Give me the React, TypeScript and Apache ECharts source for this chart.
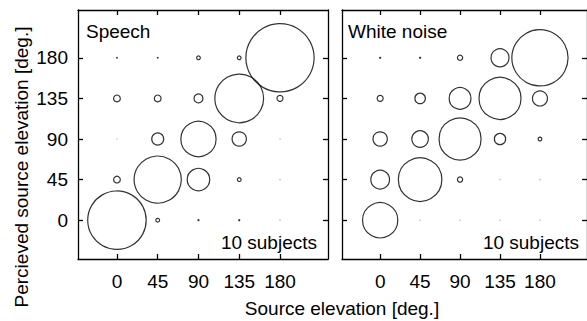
import React, { useEffect, useRef } from "react";
import * as echarts from "echarts";

const sourceElevations = [0, 45, 90, 135, 180];
const perceivedElevations = [0, 45, 90, 135, 180];
const tickValues = [0, 45, 90, 135, 180];
const panelTitles = ["Speech", "White noise"];
const subjectsNote = "10 subjects";
const xAxisTitle = "Source elevation [deg.]";
const yAxisTitle = "Percieved source elevation [deg.]";

// Response percentages; each row is one perceived elevation (0 .. 180),
// each entry a source elevation (0 .. 180).
const speechPerceived0 = [78, 5, 3, 3, 0];
const speechPerceived45 = [9, 63, 30, 5, 0];
const speechPerceived90 = [0, 16, 47, 19, 0];
const speechPerceived135 = [9, 9, 12, 65, 8];
const speechPerceived180 = [2, 2, 5, 5, 91];

const noisePerceived0 = [47, 0, 0, 0, 0];
const noisePerceived45 = [25, 58, 7, 0, 0];
const noisePerceived90 = [19, 22, 56, 15, 5];
const noisePerceived135 = [8, 14, 29, 56, 20];
const noisePerceived180 = [3, 3, 7, 24, 75];

const speechRows = [speechPerceived0, speechPerceived45, speechPerceived90, speechPerceived135, speechPerceived180];
const noiseRows = [noisePerceived0, noisePerceived45, noisePerceived90, noisePerceived135, noisePerceived180];

const FONT = "'Liberation Sans', Arial, Helvetica, sans-serif";
const FS = 19;
const AX_MIN = -43;
const AX_MAX = 233;
const PX_PER_PCT = 0.75;

function buildData(rows: number[][]) {
  const out: any[] = [];
  rows.forEach((row, ri) => {
    row.forEach((v, ci) => {
      const zero = v === 0;
      out.push({
        value: [sourceElevations[ci], perceivedElevations[ri], v],
        symbolSize: zero ? 1.4 : Math.max(v * PX_PER_PCT, 1.8),
        itemStyle: zero
          ? { color: "#999", borderWidth: 0 }
          : v * PX_PER_PCT < 2.6
          ? { color: "#000", borderWidth: 0 }
          : { color: "rgba(0,0,0,0)", borderColor: "#000", borderWidth: 1.2 },
      });
    });
  });
  return out;
}

export default function App() {
  const ref = useRef<HTMLDivElement>(null);
  useEffect(() => {
    if (!ref.current) return;
    const chart = echarts.init(ref.current, undefined, { renderer: "svg" });
    const grids = [
      { left: 78, top: 10, width: 250, height: 249 },
      { left: 342, top: 10, width: 250, height: 249 },
    ];
    const lineStyle = { color: "#000", width: 1.3 };
    const xAxes: any[] = [];
    const yAxes: any[] = [];
    grids.forEach((_, gi) => {
      ["bottom", "top"].forEach((pos) => {
        xAxes.push({
          type: "value",
          gridIndex: gi,
          position: pos,
          min: AX_MIN,
          max: AX_MAX,
          axisLine: { show: true, onZero: false, lineStyle },
          axisTick: { show: true, inside: true, length: 5, customValues: tickValues, lineStyle },
          axisLabel: {
            show: pos === "bottom",
            customValues: tickValues,
            color: "#000",
            fontSize: FS,
            fontFamily: FONT,
            margin: 13,
          },
          splitLine: { show: false },
        });
      });
      ["left", "right"].forEach((pos) => {
        yAxes.push({
          type: "value",
          gridIndex: gi,
          position: pos,
          min: AX_MIN,
          max: AX_MAX,
          axisLine: { show: true, onZero: false, lineStyle },
          axisTick: { show: true, inside: true, length: 5, customValues: tickValues, lineStyle },
          axisLabel: {
            show: pos === "left" && gi === 0,
            customValues: tickValues,
            color: "#000",
            fontSize: FS,
            fontFamily: FONT,
            margin: 10,
          },
          splitLine: { show: false },
        });
      });
    });
    const textStyle = (extra: any) => ({
      fill: "#000",
      font: `${FS}px ${FONT}`,
      ...extra,
    });
    chart.setOption({
      animation: false,
      backgroundColor: "#fff",
      grid: grids,
      xAxis: xAxes,
      yAxis: yAxes,
      series: [
        {
          type: "scatter",
          xAxisIndex: 0,
          yAxisIndex: 0,
          symbol: "circle",
          data: buildData(speechRows),
          silent: true,
        },
        {
          type: "scatter",
          xAxisIndex: 2,
          yAxisIndex: 2,
          symbol: "circle",
          data: buildData(noiseRows),
          silent: true,
        },
      ],
      graphic: [
        { type: "text", x: 86, y: 31.5, style: textStyle({ text: panelTitles[0], verticalAlign: "middle" }) },
        { type: "text", x: 348, y: 31, style: textStyle({ text: panelTitles[1], verticalAlign: "middle" }) },
        { type: "text", x: 317, y: 242, style: textStyle({ text: subjectsNote, align: "right", verticalAlign: "middle" }) },
        { type: "text", x: 579, y: 242, style: textStyle({ text: subjectsNote, align: "right", verticalAlign: "middle" }) },
        { type: "text", x: 342, y: 308, style: textStyle({ text: xAxisTitle, align: "center", verticalAlign: "middle" }) },
        {
          type: "text",
          x: 21,
          y: 167,
          rotation: Math.PI / 2,
          style: textStyle({ text: yAxisTitle, align: "center", verticalAlign: "middle" }),
        },
      ],
    });
    return () => chart.dispose();
  }, []);
  return (
    <div
      ref={ref}
      style={{ position: "absolute", left: 0, top: 0, width: 587, height: 321, background: "#fff" }}
    />
  );
}
